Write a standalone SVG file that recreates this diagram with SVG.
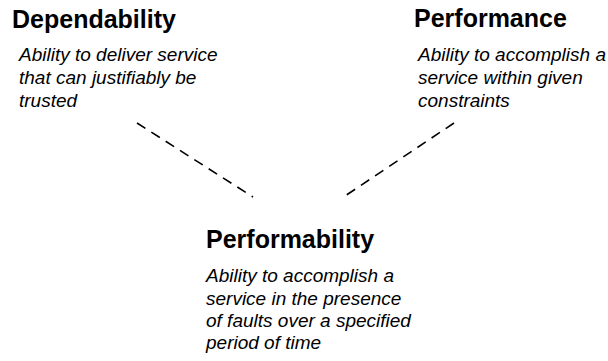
<svg xmlns="http://www.w3.org/2000/svg" width="608" height="361" viewBox="0 0 608 361">
<style>
.t{font-family:"Liberation Sans",Arial,sans-serif;font-weight:bold;font-size:25px;fill:#000}
.d{font-family:"Liberation Sans",Arial,sans-serif;font-style:italic;font-size:19px;fill:#000}
.c{stroke:#000;stroke-width:1.6;stroke-dasharray:10 7;fill:none}
</style>
<rect width="608" height="361" fill="#fff"/>
<g id="connectors">
<line class="c" x1="137" y1="123" x2="253" y2="197"/>
<line class="c" x1="454" y1="123" x2="342" y2="198"/>
</g>
<g id="dependability">
<text class="t" x="12" y="27.5">Dependability</text>
<text class="d" x="19" y="61">Ability to deliver service</text>
<text class="d" x="19" y="84">that can justifiably be</text>
<text class="d" x="19" y="107">trusted</text>
</g>
<g id="performance">
<text class="t" x="414" y="27">Performance</text>
<text class="d" x="418" y="61">Ability to accomplish a</text>
<text class="d" x="418" y="84">service within given</text>
<text class="d" x="418" y="107">constraints</text>
</g>
<g id="performability">
<text class="t" x="206" y="248">Performability</text>
<text class="d" x="206" y="282">Ability to accomplish a</text>
<text class="d" x="206" y="304.5">service in the presence</text>
<text class="d" x="206" y="327">of faults over a specified</text>
<text class="d" x="206" y="349">period of time</text>
</g>
</svg>
